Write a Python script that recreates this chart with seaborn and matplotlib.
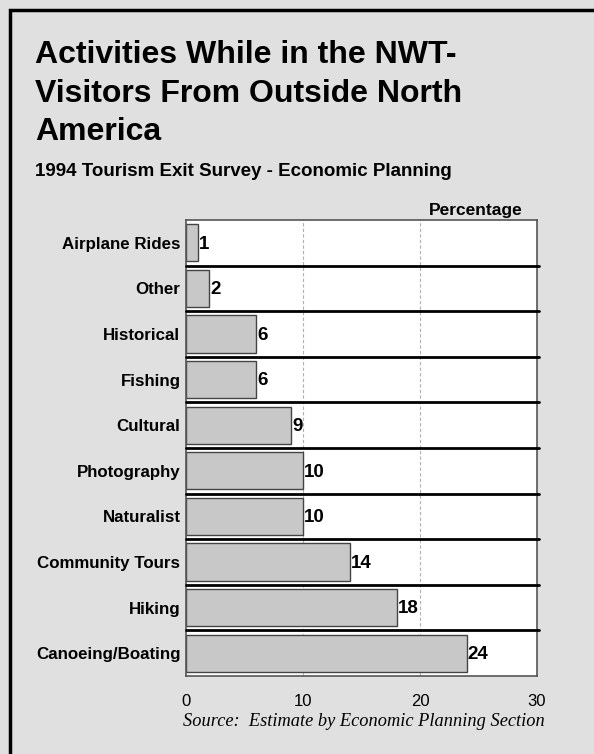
import matplotlib
matplotlib.use("Agg")
import matplotlib.pyplot as plt
from matplotlib.patches import Rectangle
import seaborn as sns
import pandas as pd

categories = ["Airplane Rides", "Other", "Historical", "Fishing", "Cultural",
              "Photography", "Naturalist", "Community Tours", "Hiking",
              "Canoeing/Boating"]
values = [1, 2, 6, 6, 9, 10, 10, 14, 18, 24]
xticks = [0, 10, 20, 30]

title_lines = ["Activities While in the NWT-", "Visitors From Outside North",
               "America"]
subtitle = "1994 Tourism Exit Survey - Economic Planning"
source = "Source:  Estimate by Economic Planning Section"

sns.set_style("white")
plt.rcParams["font.family"] = ["Liberation Sans", "DejaVu Sans"]
plt.rcParams["text.color"] = "black"
plt.rcParams["xtick.color"] = "black"
plt.rcParams["ytick.color"] = "black"

W, H = 594, 754
fig = plt.figure(figsize=(W / 100, H / 100), dpi=100)
bg = "#e0e0e0"
fig.patch.set_facecolor(bg)

# outer frame running off the right and bottom edges
fig.add_artist(Rectangle((9.5 / W, -0.05), 1.2, 1 - 9.5 / H + 0.05,
                         transform=fig.transFigure, fill=False,
                         edgecolor="black", linewidth=2.5))

ax = fig.add_axes([186 / W, 1 - 676 / H, (537 - 186) / W, (676 - 220) / H])
ax.set_facecolor("white")

df = pd.DataFrame({"Activity": categories, "Percent": values})
sns.barplot(data=df, x="Percent", y="Activity", orient="h", color="#c8c8c8",
            saturation=1, edgecolor="#444444", linewidth=1.0, width=0.82, ax=ax)

ax.set_xlim(0, 30)
ax.set_ylim(len(categories) - 0.5, -0.5)
ax.set_xticks(xticks)
ax.set_xticklabels([str(t) for t in xticks], fontsize=12)
ax.tick_params(axis="x", length=0, pad=13)
ax.tick_params(axis="y", length=0, pad=4)
ax.set_xlabel("")
ax.set_ylabel("")
for lab in ax.get_yticklabels():
    lab.set_fontweight("bold")
    lab.set_fontsize(12.2)

# dashed reference lines
for t in xticks[1:-1]:
    ax.axvline(t, color="#b0b0b0", linestyle=(0, (3, 2)), linewidth=0.8, zorder=0)

# row separators
for i in range(len(categories) - 1):
    ax.plot([0, 30.2], [i + 0.5, i + 0.5], color="black", linewidth=2,
            clip_on=False, zorder=3)

for s in ax.spines.values():
    s.set_color("#555555")
    s.set_linewidth(1.2)

# value labels
for i, v in enumerate(values):
    ax.text(v + 0.08, i + 0.03, str(v), va="center", ha="left", fontsize=13.5,
            fontweight="bold", color="black")

for k, line in enumerate(title_lines):
    fig.text(35 / W, 1 - (63 + 38.5 * k) / H, line, ha="left", va="baseline",
             fontsize=23, fontweight="bold")
fig.text(35 / W, 1 - 176 / H, subtitle, ha="left", va="baseline",
         fontsize=13.5, fontweight="bold")
fig.text(523 / W, 1 - 210 / H, "Percentage", ha="right", va="center",
         fontsize=12.5, fontweight="bold")
fig.text(183 / W, 1 - 721 / H, source, ha="left", va="center", fontsize=13.2,
         style="italic", family=["Liberation Serif", "DejaVu Serif"])

fig.savefig("out.png", dpi=100, facecolor=bg)
